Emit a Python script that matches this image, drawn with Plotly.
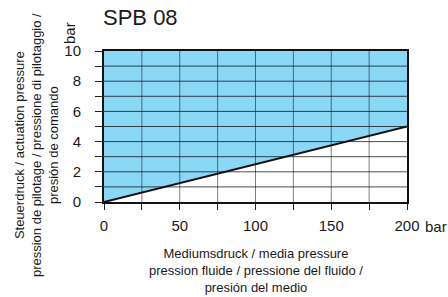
import plotly.graph_objects as go

# Data
medium_pressure = [0, 200]          # bar
actuation_pressure = [0, 5]         # bar (boundary line)
x_max = 200
y_max = 10
x_tick_vals = [0, 50, 100, 150, 200]
x_tick_text = ["0", "50", "100", "150", "200"]
y_tick_vals = [0, 2, 4, 6, 8, 10]
y_tick_text = ["0", "2", "4", "6", "8", "10"]
x_grid = [25, 50, 75, 100, 125, 150, 175]
y_grid = [1, 2, 3, 4, 5, 6, 7, 8, 9]

FONT = "Arial, Liberation Sans, sans-serif"
TXT = "#1a1a1a"

fig = go.Figure()

# Filled region above the line (permitted operating area)
fig.add_trace(go.Scatter(
    x=medium_pressure + [x_max, 0],
    y=actuation_pressure + [y_max, y_max],
    fill="toself", fillcolor="#8ad7f6",
    line=dict(width=0), mode="lines", hoverinfo="skip", showlegend=False))

# Grid lines drawn above the fill
vx, vy = [], []
for gx in x_grid:
    vx += [gx, gx, None]
    vy += [0, y_max, None]
fig.add_trace(go.Scatter(x=vx, y=vy, mode="lines",
                         line=dict(color="rgba(0,0,0,0.5)", width=1),
                         hoverinfo="skip", showlegend=False))
hx, hy = [], []
for gy in y_grid:
    hx += [0, x_max, None]
    hy += [gy, gy, None]
fig.add_trace(go.Scatter(x=hx, y=hy, mode="lines",
                         line=dict(color="rgba(0,0,0,0.7)", width=1),
                         hoverinfo="skip", showlegend=False))

# Boundary line
fig.add_trace(go.Scatter(x=medium_pressure, y=actuation_pressure, mode="lines",
                         line=dict(color="#111111", width=2),
                         hoverinfo="skip", showlegend=False))

fig.update_xaxes(range=[0, x_max], tickvals=x_tick_vals, ticktext=x_tick_text,
                 ticks="outside", ticklen=6, tickcolor="#222", tickwidth=1,
                 ticklabelstandoff=3,
                 minor=dict(dtick=25, ticks="outside", ticklen=6, tickcolor="#222", showgrid=False),
                 showgrid=False, zeroline=False, showline=True, linecolor="#111",
                 linewidth=2, mirror=True,
                 tickfont=dict(family=FONT, size=15, color=TXT))
fig.update_yaxes(range=[0, y_max], tickvals=y_tick_vals, ticktext=y_tick_text,
                 ticks="outside", ticklen=7, tickcolor="#222", tickwidth=1,
                 ticklabelstandoff=11,
                 minor=dict(dtick=1, ticks="outside", ticklen=7, tickcolor="#222", showgrid=False),
                 showgrid=False, zeroline=False, showline=True, linecolor="#111",
                 linewidth=2, mirror=True,
                 tickfont=dict(family=FONT, size=15, color=TXT))

annotations = [
    dict(text="bar", xref="x", x=x_max, yref="paper", y=0, xanchor="left",
         yanchor="middle", xshift=16, yshift=-24, showarrow=False,
         font=dict(family=FONT, size=15, color=TXT)),
    dict(text="bar", xref="paper", x=0, yref="paper", y=1, xanchor="center",
         yanchor="middle", xshift=-35, yshift=18, textangle=-90, showarrow=False,
         font=dict(family=FONT, size=15, color=TXT)),
    dict(text="Steuerdruck / actuation pressure<br>pression de pilotage / pressione di pilotaggio /<br>presión de comando",
         xref="paper", x=0, yref="paper", y=0.377, xanchor="center", yanchor="middle",
         xshift=-68, textangle=-90, showarrow=False,
         font=dict(family=FONT, size=13, color=TXT)),
    dict(text="Mediumsdruck / media pressure<br>pression fluide / pressione del fluido /<br>presión del medio",
         xref="paper", x=0.5, yref="paper", y=0, xanchor="center", yanchor="middle",
         yshift=-68, showarrow=False,
         font=dict(family=FONT, size=13, color=TXT)),
]

fig.update_layout(
    width=448, height=297,
    margin=dict(l=104, r=41, t=51, b=95),
    paper_bgcolor="white", plot_bgcolor="white",
    title=dict(text="SPB 08", x=103 / 448, xanchor="left", xref="container",
               y=1 - 17 / 297, yanchor="middle",
               font=dict(family=FONT, size=22, color=TXT)),
    annotations=annotations,
    showlegend=False,
)

# Remove the default page margin so the figure fills the window exactly
fig.write_html(
    "out.html",
    config={"displayModeBar": False},
    post_script="document.body.style.margin='0';document.body.style.overflow='hidden';"
                "document.documentElement.style.overflow='hidden';",
)
